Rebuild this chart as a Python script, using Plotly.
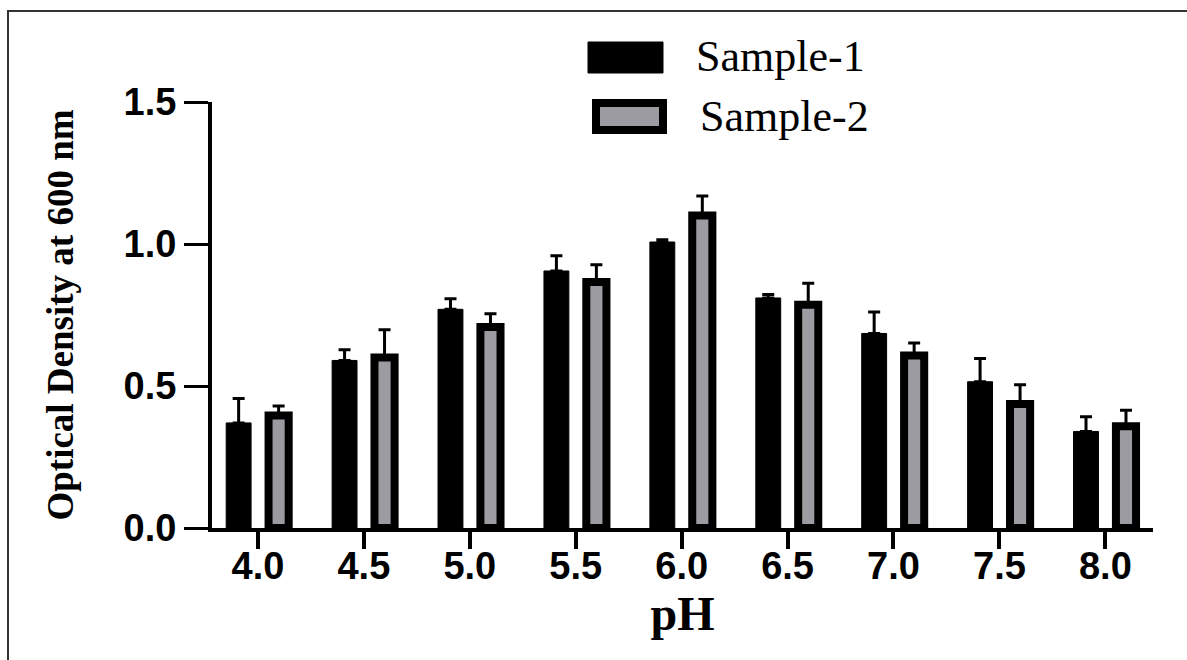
import plotly.graph_objects as go

# ---- data ----
ph_labels = ["4.0", "4.5", "5.0", "5.5", "6.0", "6.5", "7.0", "7.5", "8.0"]
sample1 = [0.37, 0.59, 0.77, 0.905, 1.007, 0.81, 0.685, 0.515, 0.34]
sample1_err = [0.086, 0.038, 0.037, 0.054, 0.008, 0.012, 0.076, 0.082, 0.052]
sample2 = [0.396, 0.60, 0.708, 0.866, 1.10, 0.786, 0.607, 0.437, 0.358]
sample2_err = [0.034, 0.098, 0.046, 0.061, 0.069, 0.076, 0.044, 0.067, 0.057]
y_ticks = [0.0, 0.5, 1.0, 1.5]
y_tick_text = ["0.0", "0.5", "1.0", "1.5"]

W, H = 1187, 660
L, R, T, B = 212, 34, 102, 132
PW, PH = W - L - R, H - T - B


def px(x):
    return (x - L) / PW


def py(y):
    return (H - B - y) / PH


GRAY = "#9c9ba1"

fig = go.Figure()
fig.add_trace(go.Bar(
    x=ph_labels, y=sample1, name="Sample-1",
    offset=-0.30, width=0.235,
    marker=dict(color="black", line=dict(color="black", width=1)),
    error_y=dict(type="data", array=sample1_err, arrayminus=[0] * len(sample1),
                 symmetric=False, color="black", thickness=3, width=6),
    showlegend=False,
))
fig.add_trace(go.Bar(
    x=ph_labels, y=sample2, name="Sample-2",
    offset=0.10, width=0.19,
    marker=dict(color=GRAY, line=dict(color="black", width=8)),
    error_y=dict(type="data", array=sample2_err, arrayminus=[0] * len(sample2),
                 symmetric=False, color="black", thickness=3, width=6),
    showlegend=False,
))

shapes = [
    # outer frame (only left/top visible)
    dict(type="rect", xref="paper", yref="paper",
         x0=px(8), x1=1.3, y0=-0.6, y1=py(11),
         line=dict(color="#333333", width=2), fillcolor="rgba(0,0,0,0)", layer="below"),
    # legend swatches
    dict(type="rect", xref="paper", yref="paper",
         x0=px(588), x1=px(663), y0=py(73), y1=py(42),
         line=dict(color="black", width=1), fillcolor="black"),
    dict(type="rect", xref="paper", yref="paper",
         x0=px(596), x1=px(663), y0=py(130), y1=py(103),
         line=dict(color="black", width=8), fillcolor=GRAY),
]

annotations = [
    dict(xref="paper", yref="paper", x=px(694), y=py(57), text="Sample-1",
         showarrow=False, xanchor="left", yanchor="middle",
         font=dict(family="Liberation Serif", size=44, color="black")),
    dict(xref="paper", yref="paper", x=px(698), y=py(117), text="Sample-2",
         showarrow=False, xanchor="left", yanchor="middle",
         font=dict(family="Liberation Serif", size=44, color="black")),
]

fig.update_layout(
    width=W, height=H,
    margin=dict(l=L, r=R, t=T, b=B, pad=0),
    paper_bgcolor="white", plot_bgcolor="white",
    barmode="overlay",
    shapes=shapes, annotations=annotations,
    showlegend=False,
)
fig.update_xaxes(
    type="category", range=[-0.434, 8.45],
    showline=True, linecolor="black", linewidth=4,
    ticks="outside", ticklen=17, tickwidth=4, tickcolor="black",
    ticklabelstandoff=-16,
    showgrid=False, zeroline=False, automargin=False,
    tickfont=dict(family="Liberation Sans", size=38, color="black", weight="bold"),
    title=dict(text="<b>pH</b>", standoff=0,
               font=dict(family="Liberation Serif", size=48, color="black")),
)
fig.update_yaxes(
    range=[0, 1.5], tickvals=y_ticks, ticktext=y_tick_text,
    showline=True, linecolor="black", linewidth=4,
    ticks="outside", ticklen=24, tickwidth=3, tickcolor="black",
    showgrid=False, zeroline=False, automargin=False,
    tickfont=dict(family="Liberation Sans", size=38, color="black", weight="bold"),
    title=dict(text="<b>Optical Density at 600 nm</b>", standoff=40,
               font=dict(family="Liberation Serif", size=37, color="black")),
)

fig.write_html("out.html", config={"displayModeBar": False},
               post_script="document.body.style.margin='0px';")
